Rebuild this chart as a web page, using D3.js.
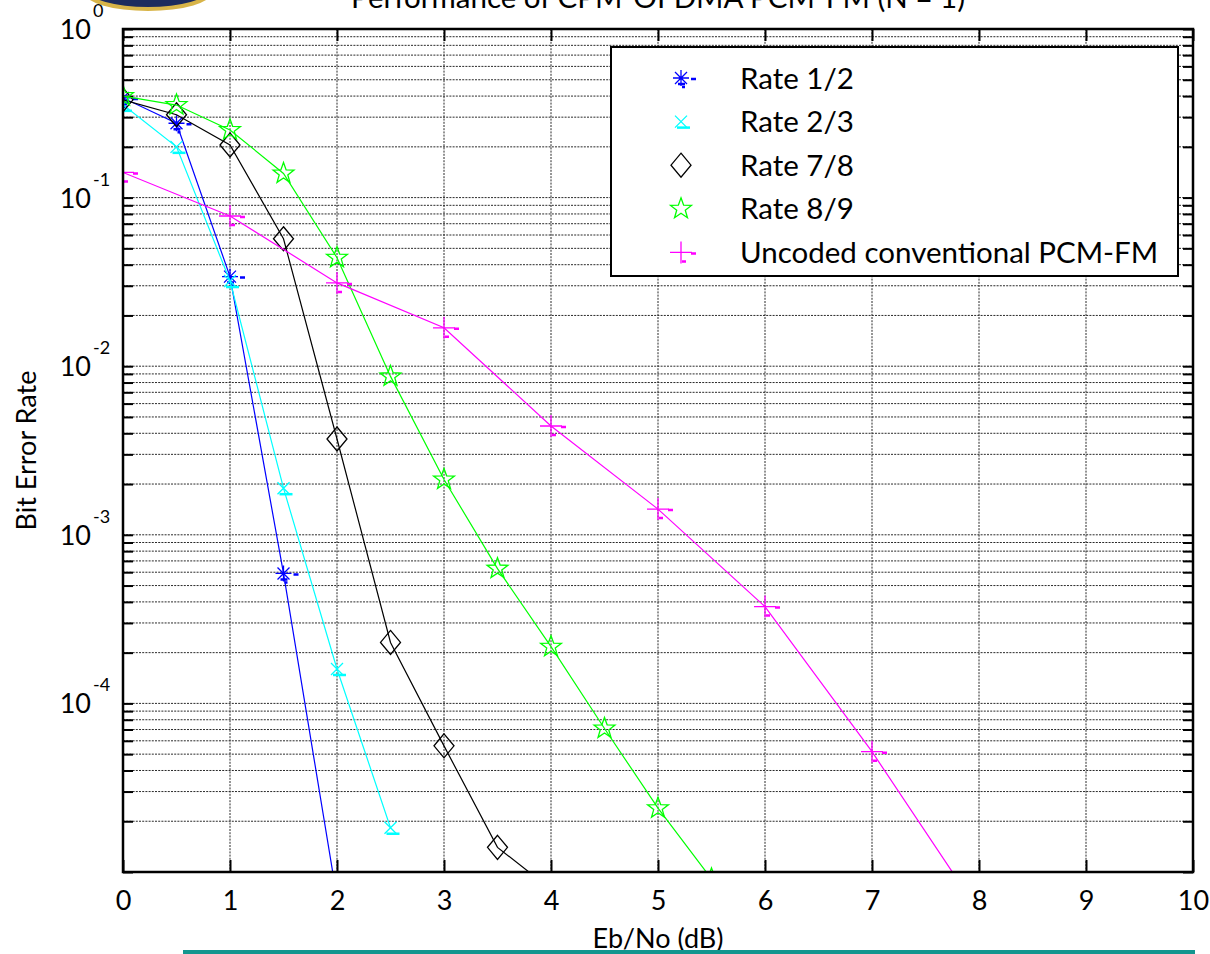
<!DOCTYPE html>
<html>
<head>
<meta charset="utf-8">
<script src="https://cdn.jsdelivr.net/npm/d3@7"></script>
<style>
  body { margin: 0; background: #fff; }
  svg { display: block; font-family: Lato, "Open Sans", sans-serif; }
</style>
</head>
<body>
<svg id="chart" width="1210" height="954"></svg>
<script>
// data (Eb/No in dB, bit error rate)
const rate12X = [0, 0.5, 1, 1.5, 2];
const rate12 = [0.39, 0.276, 0.034, 5.9e-4, 7e-6];

const rate23X = [0, 0.5, 1, 1.5, 2, 2.5];
const rate23 = [0.355, 0.20, 0.032, 1.89e-3, 1.6e-4, 1.83e-5];

const rate78X = [0, 0.5, 1, 1.5, 2, 2.5, 3, 3.5, 4];
const rate78 = [0.38, 0.31, 0.205, 0.057, 3.7e-3, 2.3e-4, 5.6e-5, 1.4e-5, 7.9e-6];

const rate89X = [0, 0.5, 1, 1.5, 2, 2.5, 3, 3.5, 4, 4.5, 5, 5.5];
const rate89 = [0.40, 0.354, 0.252, 0.139, 0.044, 8.7e-3, 2.13e-3, 6.3e-4, 2.17e-4, 7.1e-5, 2.39e-5, 9.1e-6];

const uncodedX = [0, 1, 2, 3, 4, 5, 6, 7, 8];
const uncoded = [0.141, 0.0778, 0.0312, 0.0169, 4.42e-3, 1.42e-3, 3.75e-4, 5.17e-5, 5.8e-6];

const seriesNames = ["Rate 1/2", "Rate 2/3", "Rate 7/8", "Rate 8/9", "Uncoded conventional PCM-FM"];
const seriesColors = ["#0000ff", "#00ffff", "#000000", "#00ff00", "#ff00ff"];
const seriesMarkers = ["asterisk", "cross", "diamond", "star", "plus"];

const xTicks = [0, 1, 2, 3, 4, 5, 6, 7, 8, 9, 10];
const yDecades = [1, 1e-1, 1e-2, 1e-3, 1e-4];
const yDecadeExp = ["0", "-1", "-2", "-3", "-4"];

const titleText = "Performance of CPM-OFDMA PCM-FM (N = 1)";
const xLabel = "Eb/No (dB)";
const yLabel = "Bit Error Rate";

// plot box
const box = {left: 123, right: 1193, top: 29, bottom: 872};

const svg = d3.select("#chart");

const x = d3.scaleLinear().domain([0, 10]).range([box.left, box.right]);
const y = d3.scaleLog().domain([1e-5, 1]).range([box.bottom, box.top]);

// bit of the logo peeking in at the top left
svg.append("ellipse")
    .attr("cx", 148).attr("cy", -8).attr("rx", 64).attr("ry", 19)
    .attr("fill", "#d8b448");
svg.append("ellipse")
    .attr("cx", 148).attr("cy", -10).attr("rx", 60).attr("ry", 17)
    .attr("fill", "#1d2c5e");

// title, cut off at the top like the source
svg.append("text")
    .attr("x", x(5)).attr("y", 8)
    .attr("text-anchor", "middle")
    .attr("font-size", "29.5px")
    .text(titleText);

// grid
const grid = svg.append("g")
    .attr("stroke", "#2a2a2a")
    .attr("stroke-width", 1)
    .attr("stroke-dasharray", "2,1.2");

grid.selectAll("line.vgrid")
    .data(xTicks.filter(d => d > 0 && d < 10))
    .enter().append("line")
    .attr("class", "vgrid")
    .attr("x1", d => x(d)).attr("x2", d => x(d))
    .attr("y1", box.top).attr("y2", box.bottom);

const yGridVals = y.ticks().filter(d => d > 1.01e-5 && d < 0.99);
grid.selectAll("line.hgrid")
    .data(yGridVals)
    .enter().append("line")
    .attr("class", "hgrid")
    .attr("x1", box.left).attr("x2", box.right)
    .attr("y1", d => y(d)).attr("y2", d => y(d));

// tick marks all round, pointing inward
const yTickVals = y.ticks();
const tickStyle = g => {
    g.select(".domain").remove();
    g.selectAll(".tick line").attr("stroke", "#000").attr("stroke-width", 2);
};

svg.append("g")
    .attr("transform", `translate(0,${box.bottom})`)
    .call(d3.axisBottom(x).tickValues(xTicks).tickSize(-12).tickPadding(19).tickFormat(d3.format("d")))
    .call(tickStyle)
    .call(g => g.selectAll(".tick text")
        .attr("fill", "#000")
        .attr("font-size", "27px")
        .attr("font-family", "Lato, sans-serif"));

svg.append("g")
    .attr("transform", `translate(0,${box.top})`)
    .call(d3.axisTop(x).tickValues(xTicks).tickSize(-12).tickFormat(""))
    .call(tickStyle);

svg.append("g")
    .attr("transform", `translate(${box.left},0)`)
    .call(d3.axisLeft(y).tickValues(yTickVals).tickSize(-10).tickFormat(""))
    .call(tickStyle);

svg.append("g")
    .attr("transform", `translate(${box.right},0)`)
    .call(d3.axisRight(y).tickValues(yTickVals).tickSize(-10).tickFormat(""))
    .call(tickStyle);

// y labels as 10 with superscript exponent
const yLab = svg.append("g").attr("font-size", "27px");
yDecades.forEach((v, i) => {
    yLab.append("text")
        .attr("x", 91)
        .attr("y", y(v) + 10)
        .attr("text-anchor", "end")
        .text("10");
    yLab.append("text")
        .attr("x", 93)
        .attr("y", y(v) - 12)
        .attr("font-size", "18px")
        .text(yDecadeExp[i]);
});

// axis titles
svg.append("text")
    .attr("x", x(5)).attr("y", 948)
    .attr("text-anchor", "middle")
    .attr("font-size", "27px")
    .text(xLabel);

svg.append("text")
    .attr("transform", `translate(36,${(box.top + box.bottom) / 2}) rotate(-90)`)
    .attr("text-anchor", "middle")
    .attr("font-size", "27px")
    .text(yLabel);

// teal rule along the bottom
svg.append("line")
    .attr("x1", 183).attr("x2", 1195)
    .attr("y1", 952).attr("y2", 952)
    .attr("stroke", "#13968f")
    .attr("stroke-width", 4);

// clip for the curves
svg.append("clipPath").attr("id", "plotclip")
    .append("rect")
    .attr("x", box.left).attr("y", box.top)
    .attr("width", box.right - box.left).attr("height", box.bottom - box.top);

// marker shapes, drawn round (0,0)
function markerPath(kind) {
    const p = d3.path();
    if (kind === "asterisk") {
        p.moveTo(-8, 0); p.lineTo(8, 0);
        p.moveTo(0, -8); p.lineTo(0, 8);
        p.moveTo(-6, -6); p.lineTo(6, 6);
        p.moveTo(-6, 6); p.lineTo(6, -6);
    } else if (kind === "cross") {
        p.moveTo(-6, -6); p.lineTo(6, 6);
        p.moveTo(-6, 6); p.lineTo(6, -6);
    } else if (kind === "plus") {
        p.moveTo(-11, 0); p.lineTo(11, 0);
        p.moveTo(0, -11); p.lineTo(0, 11);
    } else if (kind === "diamond") {
        p.moveTo(0, -12); p.lineTo(10, 0); p.lineTo(0, 12); p.lineTo(-10, 0); p.closePath();
    } else if (kind === "star") {
        for (let k = 0; k < 10; k++) {
            const r = k % 2 === 0 ? 11 : 4.5;
            const a = -Math.PI / 2 + k * Math.PI / 5;
            if (k === 0) p.moveTo(r * Math.cos(a), r * Math.sin(a));
            else p.lineTo(r * Math.cos(a), r * Math.sin(a));
        }
        p.closePath();
    }
    return p.toString();
}

// the little dashes the original renderer left next to some markers
function markerDashes(kind) {
    const p = d3.path();
    if (kind === "asterisk") {
        p.moveTo(10, 1); p.lineTo(15, 1);
        p.moveTo(-3, 6); p.lineTo(4, 6);
        p.moveTo(1, 9); p.lineTo(4, 9);
    } else if (kind === "cross") {
        p.moveTo(-4, 6); p.lineTo(9, 6);
    } else if (kind === "plus") {
        p.moveTo(10, 1); p.lineTo(15, 1);
        p.moveTo(1, 9); p.lineTo(5, 9);
    }
    return p.toString();
}

const allX = [rate12X, rate23X, rate78X, rate89X, uncodedX];
const allY = [rate12, rate23, rate78, rate89, uncoded];

const line = d3.line().x(d => x(d[0])).y(d => y(d[1]));

const plot = svg.append("g").attr("clip-path", "url(#plotclip)");

allY.forEach((vals, i) => {
    const pts = vals.map((v, j) => [allX[i][j], v]);
    const col = seriesColors[i];
    plot.append("path")
        .datum(pts)
        .attr("fill", "none")
        .attr("stroke", col)
        .attr("stroke-width", 1.2)
        .attr("d", line);

    const m = plot.append("g").selectAll("g")
        .data(pts)
        .enter().append("g")
        .attr("transform", d => `translate(${x(d[0])},${y(d[1])})`);
    m.append("path")
        .attr("d", markerPath(seriesMarkers[i]))
        .attr("fill", "none")
        .attr("stroke", col)
        .attr("stroke-width", 1.3);
    m.append("path")
        .attr("d", markerDashes(seriesMarkers[i]))
        .attr("fill", "none")
        .attr("stroke", col)
        .attr("stroke-width", 2.5);
});

// frame
svg.append("rect")
    .attr("x", box.left).attr("y", box.top)
    .attr("width", box.right - box.left).attr("height", box.bottom - box.top)
    .attr("fill", "none")
    .attr("stroke", "#000")
    .attr("stroke-width", 2.5);

// legend
const legend = svg.append("g");
legend.append("rect")
    .attr("x", 611).attr("y", 47)
    .attr("width", 567).attr("height", 229)
    .attr("fill", "#fff")
    .attr("stroke", "#000")
    .attr("stroke-width", 2);

const rows = legend.selectAll("g.row")
    .data(seriesNames)
    .enter().append("g")
    .attr("class", "row")
    .attr("transform", (d, i) => `translate(0,${78 + i * 43.6})`);

rows.append("path")
    .attr("transform", "translate(681,0)")
    .attr("d", (d, i) => markerPath(seriesMarkers[i]))
    .attr("fill", "none")
    .attr("stroke", (d, i) => seriesColors[i])
    .attr("stroke-width", 1.3);
rows.append("path")
    .attr("transform", "translate(681,0)")
    .attr("d", (d, i) => markerDashes(seriesMarkers[i]))
    .attr("fill", "none")
    .attr("stroke", (d, i) => seriesColors[i])
    .attr("stroke-width", 2.5);

rows.append("text")
    .attr("x", 740)
    .attr("y", 0)
    .attr("dy", "0.36em")
    .attr("font-size", "29.5px")
    .text(d => d);
</script>
</body>
</html>
